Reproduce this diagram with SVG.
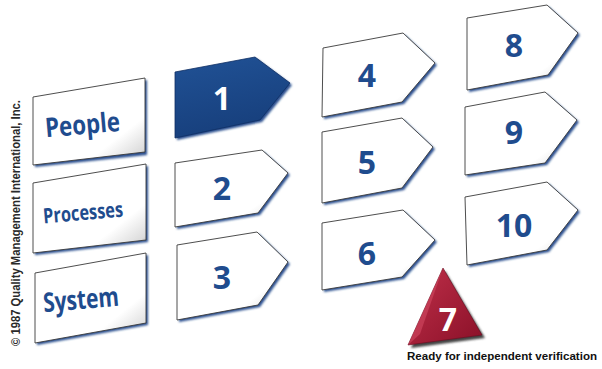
<svg xmlns="http://www.w3.org/2000/svg" width="602" height="369" viewBox="0 0 602 369">
<defs>
<linearGradient id="g" x1="0" y1="0" x2="1" y2="1">
<stop offset="0" stop-color="#ffffff"/>
<stop offset="0.72" stop-color="#ffffff"/>
<stop offset="0.9" stop-color="#dcdcdc"/>
<stop offset="1" stop-color="#8e8e8e"/>
</linearGradient>
<linearGradient id="gb" x1="0" y1="0" x2="0.3" y2="1">
<stop offset="0" stop-color="#3a66a8"/>
<stop offset="0.15" stop-color="#1f4f92"/>
<stop offset="1" stop-color="#173f7c"/>
</linearGradient>
<linearGradient id="gr" x1="0" y1="0" x2="1" y2="1">
<stop offset="0" stop-color="#c0304a"/>
<stop offset="1" stop-color="#8a1028"/>
</linearGradient>
<filter id="blur" x="-10%" y="-10%" width="130%" height="130%"><feGaussianBlur stdDeviation="0.9"/></filter>
</defs>
<style>
.sh{fill:#2a4f8f;filter:url(#blur)}
.bx{fill:url(#g);stroke:#3a3a3a;stroke-width:0.9}
.lb{font-family:"Open Sans","Noto Sans",sans-serif;font-weight:bold;fill:#1f4c8e}
.nm{font-family:"Open Sans","Noto Sans",sans-serif;font-weight:bold;fill:#1f4c8e;font-size:32px;text-anchor:middle}
</style>
<rect width="602" height="369" fill="#ffffff"/>
<text x="0" y="0" transform="translate(20,346) rotate(-90)" font-family="Liberation Sans,sans-serif" font-weight="bold" font-size="12" fill="#2a2a2a" textLength="246" lengthAdjust="spacingAndGlyphs">© 1987 Quality Management International, Inc.</text>

<g id="people"><polygon class="sh" points="35,99 147,80 147,155 35,167"/><polygon class="bx" points="33,97 145,78 145,152 33,165"/><text class="lb" x="45" y="134" font-size="27" transform="rotate(-5 84 125)" textLength="75" lengthAdjust="spacingAndGlyphs">People</text></g>
<g id="processes"><polygon class="sh" points="35,185 148,166 148,242 35,255"/><polygon class="bx" points="33,183 146,164 146,240 33,253"/><text class="lb" x="43" y="220" font-size="21" transform="rotate(-5 83 212)" textLength="80" lengthAdjust="spacingAndGlyphs">Processes</text></g>
<g id="system"><polygon class="sh" points="37,275 148,255 148,325 37,345"/><polygon class="bx" points="35,273 146,253 146,323 35,343"/><text class="lb" x="43" y="309" font-size="27" transform="rotate(-5 81 300)" textLength="76" lengthAdjust="spacingAndGlyphs">System</text></g>

<g id="n1"><polygon class="sh" points="177,74 257,59 292,85 262,122 177,140"/><polygon fill="url(#gb)" stroke="#0f2f63" stroke-width="0.8" points="175,72 255,57 290,83 260,120 175,138"/><text class="nm" x="222" y="110" style="fill:#fff">1</text></g>
<g id="n2"><polygon class="sh" points="177,165 264,152 290,175 260,215 177,229"/><polygon class="bx" points="175,163 262,150 288,173 258,213 175,227"/><text class="nm" x="222" y="200">2</text></g>
<g id="n3"><polygon class="sh" points="179,247 259,234 290,264 260,307 179,322"/><polygon class="bx" points="177,245 257,232 288,262 258,305 177,320"/><text class="nm" x="222" y="289">3</text></g>
<g id="n4"><polygon class="sh" points="325,50 405,35 437,65 404,104 324,119"/><polygon class="bx" points="323,48 403,33 435,63 402,102 322,117"/><text class="nm" x="367" y="87">4</text></g>
<g id="n5"><polygon class="sh" points="324,134 404,120 435,149 404,190 324,205"/><polygon class="bx" points="322,132 402,118 433,147 402,188 322,203"/><text class="nm" x="367" y="174">5</text></g>
<g id="n6"><polygon class="sh" points="324,225 405,212 437,242 404,279 324,292"/><polygon class="bx" points="322,223 403,210 435,240 402,277 322,290"/><text class="nm" x="367" y="265">6</text></g>
<g id="n8"><polygon class="sh" points="469,20 549,7 580,35 550,77 469,92"/><polygon class="bx" points="467,18 547,5 578,33 548,75 467,90"/><text class="nm" x="514" y="57">8</text></g>
<g id="n9"><polygon class="sh" points="467,109 547,94 579,122 547,165 467,177"/><polygon class="bx" points="465,107 545,92 577,120 545,163 465,175"/><text class="nm" x="514" y="144">9</text></g>
<g id="n10"><polygon class="sh" points="467,199 549,184 580,212 549,252 469,267"/><polygon class="bx" points="465,197 547,182 578,210 547,250 467,265"/><text class="nm" x="514" y="237">10</text></g>

<g id="n7"><polygon points="445,271 411,348 485,338" fill="#444" filter="url(#blur)"/><polygon points="443,268 408,345 482,335" fill="url(#gr)" stroke="#6a0a1e" stroke-width="0.6"/><polygon points="443,268 408,345 420,334" fill="#d24a62" opacity="0.6"/><text x="448" y="331" font-family="Open Sans,sans-serif" font-weight="bold" font-size="32" fill="#fff" text-anchor="middle">7</text></g>
<text x="407" y="360" font-family="Liberation Sans,sans-serif" font-weight="bold" font-size="11.5" fill="#111" textLength="190" lengthAdjust="spacingAndGlyphs">Ready for independent verification</text>
</svg>
